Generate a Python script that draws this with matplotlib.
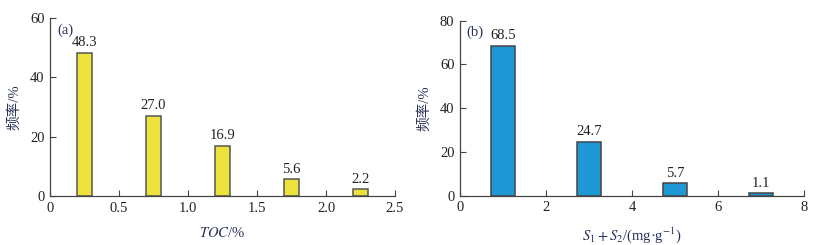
import matplotlib
matplotlib.use("Agg")
import matplotlib.pyplot as plt

# data
toc_centers = [0.25, 0.75, 1.25, 1.75, 2.25]
toc_freq = [48.3, 27.0, 16.9, 5.6, 2.2]
s12_centers = [1, 3, 5, 7]
s12_freq = [68.5, 24.7, 5.7, 1.1]

plt.rcParams["font.family"] = ["Liberation Serif", "Noto Sans CJK SC"]
plt.rcParams["mathtext.fontset"] = "stix"
plt.rcParams["font.size"] = 10

labelColor = "#2a3358"

fig = plt.figure(figsize=(8.17, 2.45), dpi=100)
axA = fig.add_axes([0.0612, 0.200, 0.4223, 0.7265])
axB = fig.add_axes([0.5630, 0.201, 0.4210, 0.7145])


def styleAxis(ax):
    ax.spines["top"].set_visible(False)
    ax.spines["right"].set_visible(False)
    for side in ("left", "bottom"):
        ax.spines[side].set_color("#444444")
        ax.spines[side].set_linewidth(0.9)
    ax.tick_params(direction="in", length=4, width=0.8, color="#444444",
                   labelsize=10.5, labelcolor="#222222", pad=4)


# (a) TOC
barsA = axA.bar(toc_centers, toc_freq, width=0.11, color="#ede13c",
                edgecolor="#555555", linewidth=1.1)
for x, v in zip(toc_centers, toc_freq):
    axA.text(x, v + 1.3, f"{v:.1f}", ha="center", va="bottom", fontsize=10.5,
             color="#222222")
axA.set_xlim(0, 2.5)
axA.set_ylim(0, 60)
axA.set_xticks([0, 0.5, 1.0, 1.5, 2.0, 2.5])
axA.set_xticklabels(["0", "0.5", "1.0", "1.5", "2.0", "2.5"])
axA.set_yticks([0, 20, 40, 60])
styleAxis(axA)
axA.set_xlabel("$TOC$/%", color=labelColor, fontsize=10.5, labelpad=8)
axA.set_ylabel("频率/%", color=labelColor, fontsize=10.5, labelpad=6)
axA.text(0.02, 0.97, "(a)", transform=axA.transAxes, ha="left", va="top",
         fontsize=10.5, color=labelColor)

# (b) S1+S2
barsB = axB.bar(s12_centers, s12_freq, width=0.57, color="#1e98d6",
                edgecolor="#444444", linewidth=1.1)
for x, v in zip(s12_centers, s12_freq):
    axB.text(x, v + 1.6, f"{v:.1f}", ha="center", va="bottom", fontsize=10.5,
             color="#222222")
axB.set_xlim(0, 8)
axB.set_ylim(0, 80)
axB.set_xticks([0, 2, 4, 6, 8])
axB.set_yticks([0, 20, 40, 60, 80])
styleAxis(axB)
axB.set_xlabel("$S_1+S_2$/(mg·g$^{-1}$)", color=labelColor, fontsize=10.5,
               labelpad=8)
axB.set_ylabel("频率/%", color=labelColor, fontsize=10.5, labelpad=6)
axB.text(0.02, 0.97, "(b)", transform=axB.transAxes, ha="left", va="top",
         fontsize=10.5, color=labelColor)

fig.savefig("out.png", dpi=100)
